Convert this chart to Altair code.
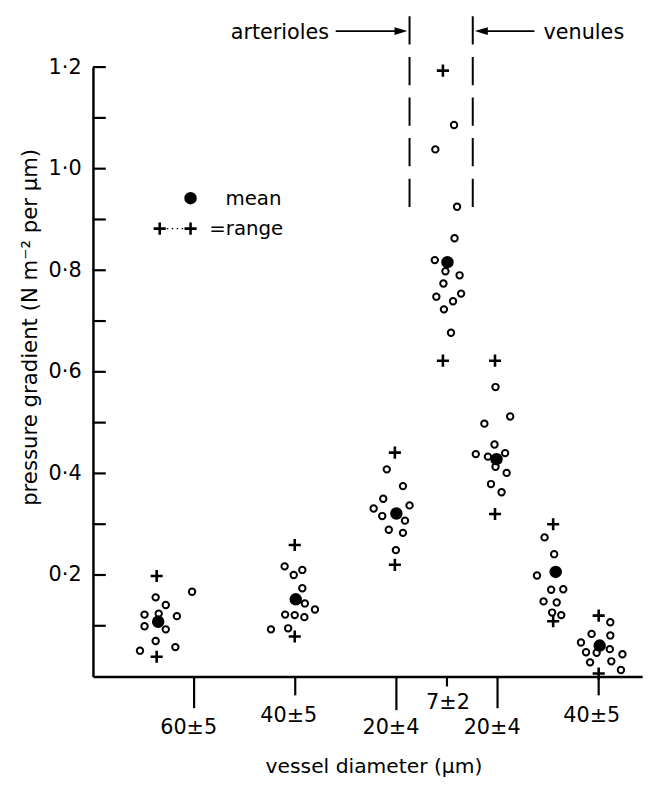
import altair as alt
import pandas as pd

# ---------------- data ----------------
# x = position along the abscissa in "tick units" (labelled ticks sit at 2,4,6,7,8,10)
# y = pressure gradient (N m^-2 per um)
c1_x = [1.96, 1.24, 1.44, 1.02, 1.30, 1.66, 1.02, 1.44, 1.24, 1.63, 0.93]
c1_y = [0.167, 0.156, 0.141, 0.122, 0.124, 0.119, 0.099, 0.093, 0.070, 0.058, 0.051]
c2_x = [3.79, 4.14, 3.97, 4.14, 4.19, 4.39, 3.80, 3.99, 4.18, 3.52, 3.86]
c2_y = [0.217, 0.210, 0.200, 0.174, 0.144, 0.132, 0.122, 0.121, 0.117, 0.093, 0.095]
c3_x = [5.81, 6.13, 5.74, 5.55, 6.26, 5.72, 6.17, 5.85, 6.13, 5.99]
c3_y = [0.408, 0.375, 0.350, 0.331, 0.337, 0.316, 0.307, 0.289, 0.283, 0.249]
c4_x = [7.14, 6.77, 7.20, 7.15, 6.76, 6.97, 7.25, 6.93, 6.79, 7.28, 7.12, 6.94, 7.08]
c4_y = [1.086, 1.038, 0.925, 0.863, 0.820, 0.798, 0.790, 0.774, 0.748, 0.754, 0.739, 0.723, 0.677]
c5_x = [7.96, 8.25, 7.74, 7.94, 7.57, 7.81, 8.15, 7.96, 8.18, 7.87, 8.08]
c5_y = [0.570, 0.512, 0.498, 0.457, 0.438, 0.433, 0.440, 0.413, 0.401, 0.379, 0.363]
c6_x = [8.93, 9.12, 8.78, 9.06, 9.30, 8.91, 9.17, 9.08, 9.26]
c6_y = [0.274, 0.241, 0.199, 0.171, 0.172, 0.148, 0.146, 0.126, 0.121]
c7_x = [10.23, 9.86, 10.23, 9.65, 10.22, 9.75, 9.96, 10.47, 9.83, 10.25, 10.44]
c7_y = [0.107, 0.084, 0.081, 0.067, 0.054, 0.048, 0.047, 0.044, 0.028, 0.030, 0.013]

mean_x = [1.29, 4.01, 6.00, 7.01, 7.98, 9.15, 10.02]
mean_y = [0.108, 0.152, 0.321, 0.816, 0.428, 0.206, 0.061]

range_x = [1.26, 3.99, 5.97, 6.92, 7.95, 9.10, 10.00]
range_hi = [0.198, 0.259, 0.441, 1.193, 0.622, 0.300, 0.120]
range_lo = [0.039, 0.079, 0.220, 0.622, 0.320, 0.109, 0.006]

tick_pos = [2, 4, 6, 7, 8, 10]
tick_text = ["60±5", "40±5", "20±4", "7±2", "20±4", "40±5"]
y_minor_ticks = [0.1, 0.2, 0.3, 0.4, 0.5, 0.6, 0.7, 0.8, 0.9, 1.0, 1.1, 1.2]
y_label_values = [0.2, 0.4, 0.6, 0.8, 1.0, 1.2]

# ---------------- layout / style ----------------
W, H = 556, 617
XMAX = 10.86
YMAX = 1.2
PX_X = W / XMAX
PX_Y = H / YMAX
FONT = "DejaVu Sans"

tick_len_px = [32, 19, 34, 10, 32, 19]
label_base_px = [58, 46, 58, 33, 58, 46]
label_dx_px = [-5.5, -6.5, -5.5, 1.0, -5.5, -7.0]

xs = alt.Scale(domain=[0, XMAX], nice=False, zero=False)
ys = alt.Scale(domain=[0, YMAX], nice=False, zero=False)

obs = pd.DataFrame({
    "x": c1_x + c2_x + c3_x + c4_x + c5_x + c6_x + c7_x,
    "y": c1_y + c2_y + c3_y + c4_y + c5_y + c6_y + c7_y,
})
means = pd.DataFrame({"x": mean_x, "y": mean_y})
ranges = pd.DataFrame({"x": range_x * 2, "y": range_hi + range_lo})

ticks_df = pd.DataFrame({
    "x": tick_pos,
    "y0": [0.0] * len(tick_pos),
    "y1": [-l / PX_Y for l in tick_len_px],
    "lx": [p + d / PX_X for p, d in zip(tick_pos, label_dx_px)],
    "ly": [-b / PX_Y for b in label_base_px],
    "t": tick_text,
})
yt_df = pd.DataFrame({"y": y_minor_ticks})

PLUS = "M-1,0L1,0M0,-1L0,1"
HEAD = "M-1,-0.6L1,0L-1,0.6Z"

x_axis = alt.Axis(
    title="vessel diameter (μm)", labels=False, ticks=False, tickSize=0, grid=False,
    domainColor="black", domainWidth=2.5, titleX=284, titleY=97,
    titleAlign="center", titleBaseline="alphabetic", titleFontSize=20.5,
    titleFontWeight="normal", titleFont=FONT, titleColor="black",
)
y_axis = alt.Axis(
    title="pressure gradient (N m⁻² per μm)", values=y_label_values, ticks=False,
    tickSize=0, grid=False, domainColor="black", domainWidth=2.5,
    labelExpr="replace(format(datum.value, '.1f'), '.', '·')",
    labelPadding=12, labelFontSize=21, labelFont=FONT, labelColor="black",
    labelBaseline="middle",
    titleX=-57, titleY=263, titleAngle=270, titleAlign="center",
    titleBaseline="alphabetic", titleFontSize=21.5, titleFontWeight="normal",
    titleFont=FONT, titleColor="black",
)

circles = alt.Chart(obs).mark_point(
    shape="circle", filled=False, color="black", size=42, strokeWidth=2, opacity=1
).encode(
    x=alt.X("x:Q", scale=xs, axis=x_axis),
    y=alt.Y("y:Q", scale=ys, axis=y_axis),
)
mean_layer = alt.Chart(means).mark_point(
    shape="circle", filled=True, color="black", size=160, opacity=1
).encode(x=alt.X("x:Q", scale=xs), y=alt.Y("y:Q", scale=ys))
range_layer = alt.Chart(ranges).mark_point(
    shape=PLUS, filled=False, color="black", size=150, strokeWidth=2.6, opacity=1
).encode(x=alt.X("x:Q", scale=xs), y=alt.Y("y:Q", scale=ys))

# inward y ticks
yticks = alt.Chart(yt_df).mark_rule(color="black", strokeWidth=2.2).encode(
    x=alt.value(0), x2=alt.value(13), y=alt.Y("y:Q", scale=ys)
)
# x ticks and labels
xticks = alt.Chart(ticks_df).mark_rule(color="black", strokeWidth=2.2).encode(
    x=alt.X("x:Q", scale=xs), y=alt.Y("y0:Q", scale=ys), y2="y1:Q"
)
xlabels = alt.Chart(ticks_df).mark_text(
    font=FONT, fontSize=21, color="black", align="center", baseline="alphabetic"
).encode(x=alt.X("lx:Q", scale=xs), y=alt.Y("ly:Q", scale=ys), text="t:N")

# arterioles / venules boundaries
bounds = pd.DataFrame({"x": [6.26, 7.51], "y": [1.300, 1.300], "y2": [0.924, 0.924]})
bound_layer = alt.Chart(bounds).mark_rule(
    color="black", strokeWidth=2, strokeDash=[28.6, 12.5]
).encode(x=alt.X("x:Q", scale=xs), y=alt.Y("y:Q", scale=ys), y2="y2:Q")

shafts = pd.DataFrame({"x": [4.80, 7.68], "x2": [6.09, 8.73], "y": [1.271, 1.271]})
shaft_layer = alt.Chart(shafts).mark_rule(color="black", strokeWidth=1.8).encode(
    x=alt.X("x:Q", scale=xs), x2="x2:Q", y=alt.Y("y:Q", scale=ys)
)
heads = pd.DataFrame({"x": [6.09, 7.68], "y": [1.271, 1.271], "a": [0, 180]})
head_layer = alt.Chart(heads).mark_point(
    shape=HEAD, filled=True, color="black", size=170, opacity=1
).encode(x=alt.X("x:Q", scale=xs), y=alt.Y("y:Q", scale=ys), angle=alt.Angle("a:Q", scale=None))

art_txt = alt.Chart(pd.DataFrame({"x": [4.67], "y": [1.255], "t": ["arterioles"]})).mark_text(
    font=FONT, fontSize=21, color="black", align="right", baseline="alphabetic"
).encode(x=alt.X("x:Q", scale=xs), y=alt.Y("y:Q", scale=ys), text="t:N")
ven_txt = alt.Chart(pd.DataFrame({"x": [8.91], "y": [1.255], "t": ["venules"]})).mark_text(
    font=FONT, fontSize=21, color="black", align="left", baseline="alphabetic"
).encode(x=alt.X("x:Q", scale=xs), y=alt.Y("y:Q", scale=ys), text="t:N")

# legend
leg_dot = alt.Chart(pd.DataFrame({"x": [1.93], "y": [0.942]})).mark_point(
    shape="circle", filled=True, color="black", size=160, opacity=1
).encode(x=alt.X("x:Q", scale=xs), y=alt.Y("y:Q", scale=ys))
leg_plus = alt.Chart(pd.DataFrame({"x": [1.32, 1.93], "y": [0.882, 0.882]})).mark_point(
    shape=PLUS, filled=False, color="black", size=150, strokeWidth=2.6, opacity=1
).encode(x=alt.X("x:Q", scale=xs), y=alt.Y("y:Q", scale=ys))
leg_dots = alt.Chart(pd.DataFrame({"x": [1.46], "x2": [1.80], "y": [0.882]})).mark_rule(
    color="black", strokeWidth=1.3, strokeDash=[1.5, 3.5]
).encode(x=alt.X("x:Q", scale=xs), x2="x2:Q", y=alt.Y("y:Q", scale=ys))
leg_txt = alt.Chart(pd.DataFrame({"x": [2.62, 2.30], "y": [0.929, 0.869], "t": ["mean", "=range"]})).mark_text(
    font=FONT, fontSize=20, color="black", align="left", baseline="alphabetic"
).encode(x=alt.X("x:Q", scale=xs), y=alt.Y("y:Q", scale=ys), text="t:N")

chart = alt.layer(
    circles, mean_layer, range_layer, yticks, xticks, xlabels,
    bound_layer, shaft_layer, head_layer, art_txt, ven_txt,
    leg_dot, leg_plus, leg_dots, leg_txt,
).properties(
    width=W, height=H,
    autosize=alt.AutoSizeParams(type="none"),
    padding={"left": 86, "top": 55, "right": 14, "bottom": 110},
    background="white",
).configure_view(stroke=None)

chart.save("out.html", embed_options={"renderer": "svg", "actions": False})
